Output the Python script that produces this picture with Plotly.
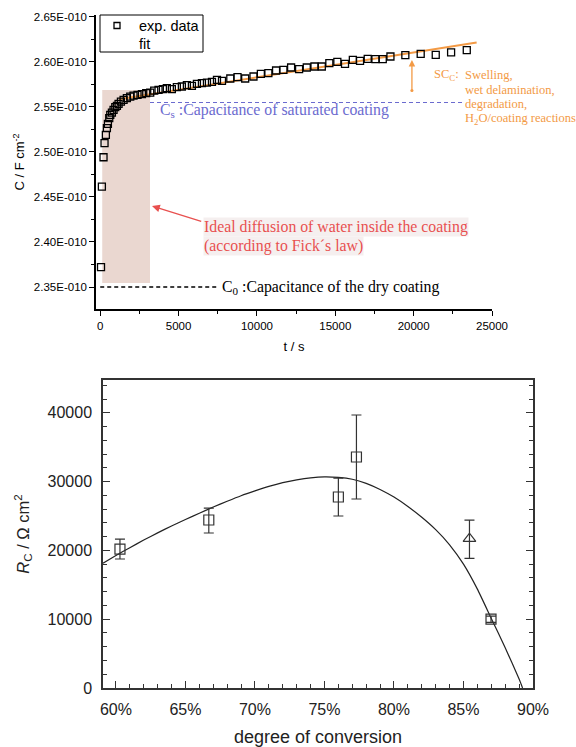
import plotly.graph_objects as go

# ---------- upper panel: coating capacitance vs. immersion time ----------
t_exp = [50, 105, 210, 275, 360, 425, 490, 575, 640, 745, 850, 960, 1065, 1170,
         1320, 1490, 1700, 1915, 2125, 2380, 2660, 2935, 3190, 3445, 3720, 4000,
         4250, 4570, 4890, 5210, 5530, 5850, 6170, 6490, 6810, 7130, 7450, 7770,
         8300, 8760, 9250, 9780, 10250, 10730, 11220, 11690, 12180, 12690, 13180,
         13670, 14140, 14620, 15130, 15620, 16120, 16580, 17070, 17560, 18030,
         18520, 19470, 20450, 21410, 22390, 23390]
c_exp_e10 = [2.372, 2.4614, 2.4941, 2.5097, 2.5189, 2.5263, 2.5311, 2.5374, 2.5411,
             2.5437, 2.5467, 2.5497, 2.5511, 2.5533, 2.5559, 2.5578, 2.5597, 2.5614,
             2.5626, 2.5633, 2.5641, 2.5652, 2.5659, 2.5681, 2.5689, 2.5697, 2.5708,
             2.5697, 2.5719, 2.5726, 2.5741, 2.5733, 2.5756, 2.5763, 2.5770, 2.5778,
             2.5800, 2.5789, 2.5815, 2.5830, 2.5815, 2.5837, 2.5867, 2.5874, 2.5904,
             2.5911, 2.5937, 2.5919, 2.5937, 2.5948, 2.5948, 2.5985, 2.6000, 2.5978,
             2.6022, 2.6011, 2.6033, 2.6030, 2.6030, 2.6059, 2.6074, 2.6089, 2.6078,
             2.6104, 2.6130]
t_fit = [1200, 24020]
c_fit_e10 = [2.5584, 2.6215]

c_dry_e10 = 2.35        # C0, dry coating
c_sat_e10 = 2.5548      # Cs, saturated coating
fick_t = [128, 3176]    # time window of ideal Fickian uptake
fick_c_e10 = [2.3545, 2.5687]

c_ticks_e10 = [2.35, 2.40, 2.45, 2.50, 2.55, 2.60, 2.65]
c_tick_text = ["2.35E-010", "2.40E-010", "2.45E-010", "2.50E-010",
               "2.55E-010", "2.60E-010", "2.65E-010"]
c_minor_e10 = [2.375, 2.425, 2.475, 2.525, 2.575, 2.625]
t_ticks = [0, 5000, 10000, 15000, 20000, 25000]
t_minor = [2500, 7500, 12500, 17500, 22500]

# ---------- lower panel: coating resistance vs. degree of conversion ----------
conv_pts = [60.29, 66.68, 76.0, 77.3, 86.98]
rc_pts = [20200, 24420, 27760, 33580, 10000]
rc_err_plus = [1450, 1740, 2760, 6100, 450]
rc_err_minus = [1450, 1890, 2760, 6110, 450]

conv_tri = [85.43]
rc_tri = [21700]
rc_tri_err_plus = [2700]
rc_tri_err_minus = [2850]

conv_curve = [59.07, 60, 61, 62, 63, 64, 65, 66, 67, 68, 69, 70, 71, 72, 73, 74,
              75, 76, 77, 78, 79, 80, 81, 82, 83, 84, 85, 86, 87, 88, 89, 89.25]
rc_curve = [18150, 19250, 20400, 21500, 22550, 23550, 24500, 25400, 26300, 27150,
            27950, 28650, 29300, 29850, 30250, 30550, 30700, 30620, 30340, 29750,
            28860, 27750, 26380, 24820, 23020, 20820, 18000, 14370, 10110, 5860,
            1300, 0]

conv_ticks = [60, 65, 70, 75, 80, 85, 90]
conv_tick_text = ["60%", "65%", "70%", "75%", "80%", "85%", "90%"]
rc_ticks = [0, 10000, 20000, 30000, 40000]

E10 = 1e-10
W, H = 576, 747


def px(v):
    return v / W


def py(v):
    return 1 - v / H


ORANGE = "#f39a45"
BLUE = "#6b6bcf"
RED = "#e8504f"
SERIF = "Liberation Serif, Times New Roman, serif"
SANS = "Liberation Sans, Arial, sans-serif"

fig = go.Figure()

fig.add_trace(go.Scatter(
    x=t_fit, y=[c * E10 for c in c_fit_e10], mode="lines",
    line=dict(color=ORANGE, width=2), showlegend=False,
    xaxis="x", yaxis="y"))
fig.add_trace(go.Scatter(
    x=t_exp, y=[c * E10 for c in c_exp_e10], mode="markers", name="exp. data",
    marker=dict(symbol="square-open", size=7, color="black", line=dict(width=1.3)),
    showlegend=False, xaxis="x", yaxis="y"))

fig.add_trace(go.Scatter(
    x=conv_curve, y=rc_curve, mode="lines",
    line=dict(color="#222", width=1.2, shape="spline", smoothing=0.5),
    showlegend=False, xaxis="x2", yaxis="y2"))
fig.add_trace(go.Scatter(
    x=conv_pts, y=rc_pts, mode="markers", showlegend=False,
    marker=dict(symbol="square-open", size=10, color="#333", line=dict(width=1.2)),
    error_y=dict(type="data", array=rc_err_plus, arrayminus=rc_err_minus,
                 color="#333", thickness=1.2, width=5),
    xaxis="x2", yaxis="y2"))
fig.add_trace(go.Scatter(
    x=conv_tri, y=rc_tri, mode="markers", showlegend=False,
    marker=dict(symbol="triangle-up-open", size=11, color="#333", line=dict(width=1.2)),
    error_y=dict(type="data", array=rc_tri_err_plus, arrayminus=rc_tri_err_minus,
                 color="#333", thickness=1.2, width=5),
    xaxis="x2", yaxis="y2"))

shapes = [
    dict(type="rect", xref="x", yref="y", x0=fick_t[0], x1=fick_t[1],
         y0=fick_c_e10[0] * E10, y1=fick_c_e10[1] * E10,
         fillcolor="#ead7d0", line=dict(width=0), layer="below"),
    dict(type="line", xref="x", yref="y", x0=0, x1=7450,
         y0=c_dry_e10 * E10, y1=c_dry_e10 * E10,
         line=dict(color="black", width=1.6, dash="4px,3px")),
    dict(type="line", xref="x", yref="y", x0=3176, x1=23085,
         y0=c_sat_e10 * E10, y1=c_sat_e10 * E10,
         line=dict(color=BLUE, width=1.1, dash="4px,3px")),
    # legend frame and its square symbol
    dict(type="rect", xref="paper", yref="paper", x0=px(100), x1=px(203),
         y0=py(52), y1=py(15), line=dict(color="black", width=1),
         fillcolor="white"),
    dict(type="rect", xref="paper", yref="paper", x0=px(114), x1=px(120),
         y0=py(28.5), y1=py(22.5), line=dict(color="black", width=1.3)),
]


def note(x, y, text, size, color, family=SERIF, anchor="left", yanchor="middle", **kw):
    return dict(xref="x", yref="y", x=x, y=y, xanchor=anchor, yanchor=yanchor,
                showarrow=False, text=text,
                font=dict(family=family, size=size, color=color), **kw)


red_bg = "rgba(244,238,238,0.95)"
annotations = [
    note(7640, c_dry_e10 * E10, "C<sub>0</sub> :Capacitance of the dry coating", 15.8, "black"),
    note(3690, 2.5455 * E10, "C<sub>s</sub> :Capacitance of saturated coating", 15.8, BLUE),
    note(6560, 2.4166 * E10, "Ideal diffusion of water inside the coating", 15.8, RED,
         bgcolor=red_bg, borderpad=0),
    note(6560, 2.3955 * E10, "(according to Fick\u00b4s law)", 15.8, RED,
         bgcolor=red_bg, borderpad=0),
    dict(xref="x", yref="y", axref="x", ayref="y", x=3304, y=2.4399 * E10,
         ax=6540, ay=2.4225 * E10, text="", showarrow=True, arrowhead=2,
         arrowsize=1.2, arrowwidth=1.3, arrowcolor=RED),
    note(21170, 2.5854 * E10, "SC<sub>C</sub>:", 12.5, ORANGE),
    note(23150, 2.5854 * E10, "Swelling,", 12.5, ORANGE),
    note(23150, 2.5687 * E10, "wet delamination,", 12.5, ORANGE),
    note(23150, 2.5531 * E10, "degradation,", 12.5, ORANGE),
    note(23150, 2.5364 * E10, "H<sub>2</sub>O/coating reactions", 12.5, ORANGE),
    dict(xref="x", yref="y", axref="x", ayref="y", x=19890, y=2.6020 * E10,
         ax=19890, ay=2.5665 * E10, text="", showarrow=True, arrowhead=2,
         arrowside="end+start", startarrowhead=6, startarrowsize=0.6,
         arrowsize=1, arrowwidth=1.3, arrowcolor=ORANGE),
    # legend entries
    dict(xref="paper", yref="paper", x=px(137), y=py(26), xanchor="left",
         yanchor="middle", showarrow=False, text="exp. data",
         font=dict(family=SANS, size=14.5, color="black")),
    dict(xref="paper", yref="paper", x=px(137), y=py(43.5), xanchor="left",
         yanchor="middle", showarrow=False, text="fit",
         font=dict(family=SANS, size=14.5, color="black")),
]

fig.update_layout(
    width=W, height=H, margin=dict(l=0, r=0, t=0, b=0, autoexpand=False),
    paper_bgcolor="white", plot_bgcolor="white",
    font=dict(family=SANS, color="#222"),
    showlegend=False,
    shapes=shapes, annotations=annotations,
    xaxis=dict(domain=[px(96), px(492)], range=[-270, 25000], anchor="y",
               automargin=False,
               showline=True, linecolor="black", linewidth=1.5,
               ticks="outside", ticklen=5, tickwidth=1.2, tickcolor="black",
               tickvals=t_ticks, ticktext=[str(v) for v in t_ticks],
               minor=dict(tickvals=t_minor, ticks="outside", ticklen=3,
                          tickcolor="black"),
               showgrid=False, zeroline=False,
               tickfont=dict(size=11.5, color="black"),
               title=dict(text="t / s", font=dict(size=13, color="black"), standoff=11)),
    yaxis=dict(domain=[py(309), py(15)], range=[2.3256 * E10, 2.652 * E10], anchor="x",
               automargin=False,
               showline=True, linecolor="black", linewidth=1.5,
               ticks="outside", ticklen=5, tickwidth=1.2, tickcolor="black",
               tickvals=[v * E10 for v in c_ticks_e10], ticktext=c_tick_text,
               minor=dict(tickvals=[v * E10 for v in c_minor_e10], ticks="outside",
                          ticklen=3, tickcolor="black"),
               showgrid=False, zeroline=False,
               tickfont=dict(size=11.5, color="black"),
               title=dict(text="C / F cm<sup>-2</sup>", font=dict(size=13, color="black"),
                          standoff=6)),
    xaxis2=dict(domain=[px(103), px(533)], range=[59.07, 90], anchor="y2",
                automargin=False,
                showline=True, mirror=True, linecolor="#333", linewidth=1.5,
                ticks="inside", ticklen=7, tickwidth=1.2, tickcolor="#333",
                tickvals=conv_ticks, ticktext=conv_tick_text,
                minor=dict(dtick=1, tick0=60, ticks="inside", ticklen=4,
                           tickcolor="#333"),
                showgrid=False, zeroline=False, ticklabelstandoff=6,
                tickfont=dict(size=16, color="#222"),
                title=dict(text="degree of conversion", font=dict(size=18, color="#222"),
                           standoff=16)),
    yaxis2=dict(domain=[py(688), py(380)], range=[0, 44770], anchor="x2",
                automargin=False,
                showline=True, mirror="ticks", linecolor="#333", linewidth=1.5,
                ticks="inside", ticklen=7, tickwidth=1.2, tickcolor="#333",
                tickvals=rc_ticks, ticktext=[str(v) for v in rc_ticks],
                minor=dict(dtick=2000, ticks="inside", ticklen=4, tickcolor="#333"),
                showgrid=False, zeroline=False, ticklabelstandoff=6,
                tickfont=dict(size=16, color="#222"),
                title=dict(text="<i>R</i><sub>C</sub> / \u03a9 cm<sup>2</sup>",
                           font=dict(size=16.5, color="#222"), standoff=14)),
)

fig.write_html("out.html")
